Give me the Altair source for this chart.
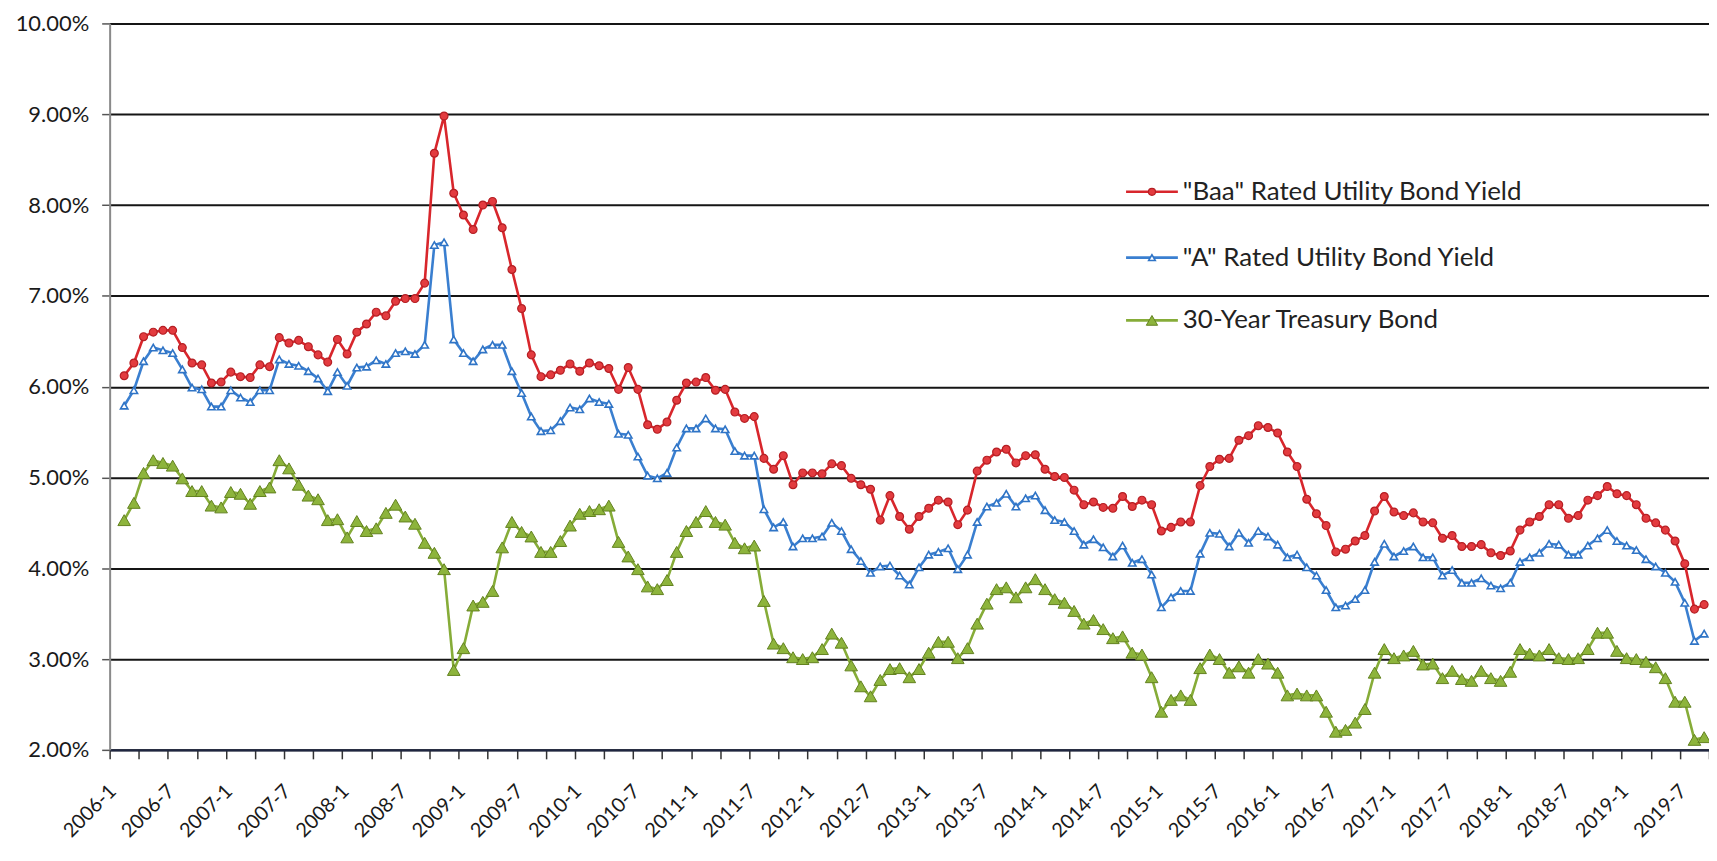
import altair as alt
import pandas as pd

# ---- data (index 0 = 2006-1, last = 2019-9) ----
start_year = 2006
n_months = 165

baa = [None,
 6.12, 6.26, 6.55, 6.60, 6.62, 6.62, 6.43, 6.26, 6.24, 6.04, 6.05,
 6.16, 6.11, 6.10, 6.24, 6.22, 6.54, 6.48, 6.51, 6.44, 6.35, 6.27, 6.52,
 6.36, 6.60, 6.69, 6.82, 6.78, 6.94, 6.97, 6.97, 7.14, 8.57, 8.98, 8.13,
 7.89, 7.73, 8.00, 8.04, 7.75, 7.29, 6.86, 6.35, 6.11, 6.13, 6.18, 6.25,
 6.17, 6.26, 6.23, 6.20, 5.97, 6.21, 5.97, 5.58, 5.53, 5.61, 5.85, 6.04,
 6.05, 6.10, 5.96, 5.97, 5.72, 5.65, 5.67, 5.21, 5.09, 5.24, 4.92, 5.05,
 5.05, 5.04, 5.15, 5.13, 4.99, 4.92, 4.87, 4.53, 4.80, 4.57, 4.43, 4.57,
 4.66, 4.75, 4.73, 4.48, 4.64, 5.07, 5.19, 5.28, 5.31, 5.16, 5.24, 5.25,
 5.09, 5.01, 5.00, 4.86, 4.70, 4.73, 4.67, 4.66, 4.79, 4.68, 4.75, 4.70,
 4.41, 4.45, 4.51, 4.51, 4.91, 5.12, 5.20, 5.21, 5.41, 5.46, 5.57, 5.55,
 5.49, 5.28, 5.12, 4.76, 4.60, 4.47, 4.18, 4.21, 4.30, 4.36, 4.63, 4.79,
 4.62, 4.58, 4.61, 4.51, 4.50, 4.33, 4.36, 4.24, 4.24, 4.26, 4.17, 4.14,
 4.19, 4.42, 4.51, 4.57, 4.70, 4.70, 4.55, 4.58, 4.75, 4.80, 4.90, 4.82,
 4.80, 4.70, 4.55, 4.50, 4.42, 4.30, 4.05, 3.55, 3.60]

a_rated = [None,
 5.79, 5.96, 6.28, 6.43, 6.40, 6.37, 6.19, 5.99, 5.97, 5.78, 5.78,
 5.96, 5.88, 5.83, 5.96, 5.96, 6.30, 6.25, 6.23, 6.17, 6.09, 5.95, 6.16,
 6.01, 6.21, 6.22, 6.29, 6.25, 6.37, 6.39, 6.36, 6.46, 7.56, 7.59, 6.52,
 6.37, 6.28, 6.41, 6.46, 6.46, 6.17, 5.93, 5.67, 5.51, 5.52, 5.62, 5.77,
 5.75, 5.87, 5.83, 5.81, 5.48, 5.47, 5.23, 5.02, 4.99, 5.05, 5.33, 5.54,
 5.54, 5.65, 5.54, 5.53, 5.29, 5.24, 5.24, 4.65, 4.45, 4.51, 4.24, 4.33,
 4.33, 4.35, 4.50, 4.41, 4.21, 4.08, 3.95, 4.02, 4.03, 3.92, 3.82, 4.01,
 4.15, 4.18, 4.22, 3.99, 4.15, 4.51, 4.68, 4.72, 4.82, 4.68, 4.77, 4.80,
 4.64, 4.53, 4.51, 4.41, 4.26, 4.32, 4.23, 4.13, 4.25, 4.06, 4.10, 3.93,
 3.57, 3.68, 3.75, 3.75, 4.16, 4.39, 4.38, 4.24, 4.39, 4.28, 4.41, 4.35,
 4.26, 4.12, 4.15, 4.01, 3.92, 3.76, 3.57, 3.59, 3.66, 3.76, 4.07, 4.27,
 4.13, 4.19, 4.24, 4.12, 4.12, 3.92, 3.98, 3.84, 3.84, 3.89, 3.81, 3.78,
 3.84, 4.07, 4.12, 4.17, 4.27, 4.26, 4.15, 4.15, 4.25, 4.33, 4.42, 4.30,
 4.25, 4.20, 4.10, 4.02, 3.95, 3.85, 3.62, 3.20, 3.28]

treasury = [None,
 4.53, 4.72, 5.05, 5.19, 5.16, 5.13, 4.99, 4.85, 4.85, 4.69, 4.67,
 4.84, 4.82, 4.71, 4.85, 4.89, 5.19, 5.10, 4.92, 4.80, 4.76, 4.53, 4.54,
 4.34, 4.52, 4.41, 4.44, 4.61, 4.70, 4.57, 4.49, 4.28, 4.17, 3.99, 2.88,
 3.12, 3.59, 3.63, 3.75, 4.23, 4.51, 4.40, 4.35, 4.18, 4.18, 4.30, 4.47,
 4.60, 4.63, 4.65, 4.69, 4.29, 4.13, 3.99, 3.80, 3.77, 3.87, 4.18, 4.41,
 4.51, 4.63, 4.51, 4.48, 4.28, 4.22, 4.25, 3.64, 3.17, 3.12, 3.02, 3.00,
 3.02, 3.11, 3.28, 3.18, 2.93, 2.70, 2.59, 2.77, 2.89, 2.90, 2.80, 2.89,
 3.07, 3.19, 3.19, 3.01, 3.12, 3.39, 3.61, 3.77, 3.79, 3.68, 3.79, 3.88,
 3.77, 3.66, 3.62, 3.53, 3.39, 3.43, 3.33, 3.23, 3.25, 3.07, 3.05, 2.80,
 2.42, 2.55, 2.60, 2.55, 2.90, 3.05, 3.00, 2.85, 2.92, 2.85, 3.00, 2.95,
 2.85, 2.60, 2.62, 2.60, 2.60, 2.42, 2.20, 2.22, 2.30, 2.45, 2.85, 3.11,
 3.01, 3.04, 3.09, 2.94, 2.95, 2.79, 2.87, 2.78, 2.76, 2.87, 2.79, 2.76,
 2.86, 3.11, 3.06, 3.04, 3.11, 3.01, 3.00, 3.01, 3.11, 3.29, 3.29, 3.09,
 3.01, 3.00, 2.97, 2.91, 2.79, 2.53, 2.53, 2.11, 2.14]

series_names = ['"Baa" Rated Utility Bond Yield',
                '"A" Rated Utility Bond Yield',
                '30-Year Treasury Bond']

rows = []
for name, vals in zip(series_names, [baa, a_rated, treasury]):
    for i, v in enumerate(vals):
        if v is not None:
            rows.append({"series": name, "m": i + 0.5, "value": v})
df = pd.DataFrame(rows)
one = pd.DataFrame({"k": [0]})

FONT = "Lato"
W, H = 1605, 729

label_expr = ("(datum.value % 6 == 0 && datum.value < " + str(n_months) + ") ? "
              "(floor(datum.value / 12) + " + str(start_year) + ") + '-' + (datum.value % 12 + 1) : ''")

x_enc = alt.X("m:Q",
              scale=alt.Scale(domain=[0, n_months], nice=False, zero=False),
              axis=alt.Axis(
                  values=list(range(0, n_months + 1, 3)),
                  labelExpr=label_expr,
                  labelAngle=-45, labelAlign="right", labelBaseline="top",
                  labelOffset=-4, labelPadding=22, labelOverlap=False, labelFlush=False,
                  labelFontSize=20, labelFont=FONT, labelColor="#1a1a1a",
                  tickSize=9, tickColor="#333", tickWidth=1.5,
                  domainColor="#1f2640", domainWidth=2.2, grid=False, title=None))

y_enc = alt.Y("value:Q",
              scale=alt.Scale(domain=[2, 10], nice=False, zero=False),
              axis=alt.Axis(
                  values=list(range(2, 11)),
                  labelExpr="format(datum.value, '.2f') + '%'",
                  labelFontSize=22, labelFont=FONT, labelColor="#1a1a1a",
                  labelPadding=13, tickSize=8, tickColor="#555", tickWidth=1.5,
                  domainColor="#8a8a8a", domainWidth=2,
                  grid=True, gridColor="#151515", gridWidth=2, title=None))

styles = {
    series_names[0]: dict(line="#d8262c", shape="circle", fill="#e33b3f", stroke="#b51f24", size=62, sw=1.2),
    series_names[1]: dict(line="#3a7fd0", shape="triangle-up", fill="#ffffff", stroke="#2f74c6", size=55, sw=1.6),
    series_names[2]: dict(line="#86ac38", shape="triangle-up", fill="#8db43c", stroke="#62821f", size=160, sw=1.0),
}

base = alt.Chart(df)
layers = []
for name in series_names:
    s = styles[name]
    sub = base.transform_filter(alt.datum.series == name)
    layers.append(sub.mark_line(color=s["line"], strokeWidth=2.6).encode(x=x_enc, y=y_enc))
    layers.append(sub.mark_point(shape=s["shape"], filled=True, fill=s["fill"], stroke=s["stroke"],
                                 strokeWidth=s["sw"], size=s["size"], opacity=1).encode(x=x_enc, y=y_enc))

# ---- legend (inside the plot, upper right) ----
leg_y = [169, 235, 298]
for name, ly in zip(series_names, leg_y):
    s = styles[name]
    layers.append(alt.Chart(one).mark_rule(color=s["line"], strokeWidth=2.6).encode(
        x=alt.value(1020), x2=alt.value(1072), y=alt.value(ly)))
    layers.append(alt.Chart(one).mark_point(shape=s["shape"], filled=True, fill=s["fill"], stroke=s["stroke"],
                                            strokeWidth=s["sw"], size=s["size"] * 0.8, opacity=1).encode(
        x=alt.value(1046), y=alt.value(ly)))
    layers.append(alt.Chart(one).mark_text(text=name, align="left", baseline="middle", font=FONT,
                                           fontSize=26, color="#222222").encode(
        x=alt.value(1077), y=alt.value(ly)))

chart = alt.layer(*layers).properties(
    width=W, height=H,
    autosize=alt.AutoSizeParams(type="none"),
    padding={"left": 102, "top": 14, "right": 0, "bottom": 94},
).configure_view(stroke="#222", strokeWidth=1.5).configure(background="white")

chart.save("out.html", embed_options={"renderer": "svg", "actions": False})
